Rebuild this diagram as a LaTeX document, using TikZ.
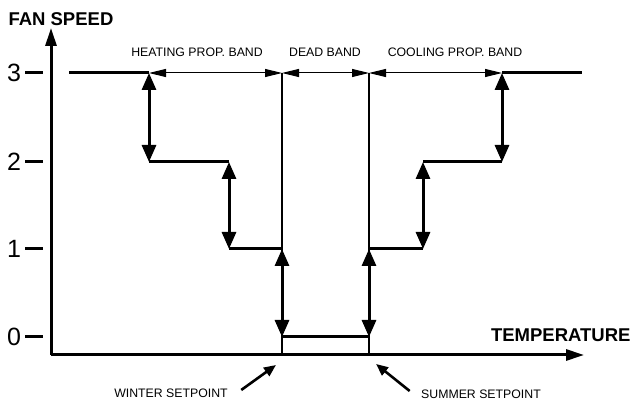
\documentclass[tikz,border=0pt]{standalone}
\usepackage{fontspec}
\setmainfont{Liberation Sans}
\usetikzlibrary{arrows.meta}
\begin{document}
\begin{tikzpicture}[x=1pt,y=-1pt,
   axis/.style={line width=3pt,-{Triangle[length=18pt,width=11pt]}},
   stage/.style={line width=3pt},
   jump/.style={line width=3pt,{Triangle[length=17pt,width=14pt]}-{Triangle[length=17pt,width=14pt]}},
   band/.style={line width=1pt,{Triangle[length=17pt,width=8pt]}-{Triangle[length=17pt,width=8pt]}},
   guide/.style={line width=1.1pt},
   pointer/.style={line width=2.6pt,-{Triangle[length=12pt,width=10pt]}},
   level/.style={font=\fontsize{25}{25}\selectfont},
   title/.style={font=\bfseries\fontsize{18.5}{18.5}\selectfont},
   small/.style={font=\fontsize{12.3}{12.3}\selectfont}]
\useasboundingbox (0,0) rectangle (633,403);
% axes
\coordinate (origin) at (51,355);
\coordinate (ytop) at (51,28);
\coordinate (xend) at (584,355);
\draw[axis] (origin) -- (ytop);
\draw[axis] (origin) -- (xend);
\node[title,anchor=west] (fan) at (5,19) {FAN SPEED};
\node[title,anchor=east] (temp) at (634,335) {TEMPERATURE};
% speed levels
\foreach \v/\y in {0/337,1/249,2/162,3/73}{
  \node[level] (lv\v) at (14,\y) {\v};
  \draw[stage] (25,\y) -- (43,\y);
}
% step points
\coordinate (h3a) at (69,73);   \coordinate (h3) at (149,73);
\coordinate (h2) at (149,162);  \coordinate (h2b) at (229,162);
\coordinate (h1) at (229,249);  \coordinate (h1b) at (282,249);
\coordinate (w0) at (282,337);  \coordinate (s0) at (369,337);
\coordinate (c1) at (369,249);  \coordinate (c1b) at (423,249);
\coordinate (c2) at (423,162);  \coordinate (c2b) at (502,162);
\coordinate (c3) at (502,73);   \coordinate (c3b) at (582,73);
\coordinate (w3) at (282,73);   \coordinate (s3) at (369,73);
\coordinate (wx) at (282,355);  \coordinate (sx) at (369,355);
% setpoint guides
\draw[guide] (w3) -- (wx);
\draw[guide] (s3) -- (sx);
% fan speed curve
\draw[stage] (h3a) -- (h3);
\draw[stage] (h2) -- (h2b);
\draw[stage] (h1) -- (h1b);
\draw[stage] (w0) -- (s0);
\draw[stage] (c1) -- (c1b);
\draw[stage] (c2) -- (c2b);
\draw[stage] (c3) -- (c3b);
\draw[jump] (h3) -- (h2);
\draw[jump] (h2b) -- (h1);
\draw[jump] (h1b) -- (w0);
\draw[jump] (s0) -- (c1);
\draw[jump] (c1b) -- (c2);
\draw[jump] (c2b) -- (c3);
% bands
\draw[band] (h3) -- (w3);
\draw[band] (w3) -- (s3);
\draw[band] (s3) -- (c3);
\node[small] (heat) at (197,52) {HEATING PROP. BAND};
\node[small] (dead) at (325,52) {DEAD BAND};
\node[small] (cool) at (455,52) {COOLING PROP. BAND};
% setpoints
\node[small] (winter) at (171,393) {WINTER SETPOINT};
\node[small] (summer) at (481,394) {SUMMER SETPOINT};
\coordinate (wtip) at (276,365);
\coordinate (stip) at (376,364);
\draw[pointer] (winter.east) ++(10,-3) coordinate (wtail) (wtail) -- (wtip);
\draw[pointer] (summer.west) ++(-8,-3) coordinate (stail) (stail) -- (stip);
\end{tikzpicture}
\end{document}
